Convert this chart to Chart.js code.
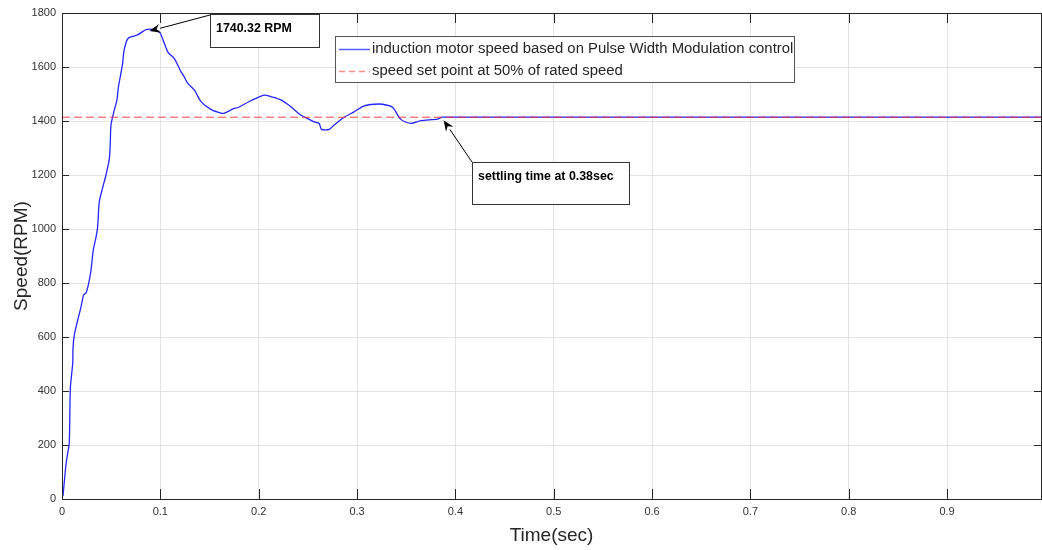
<!DOCTYPE html>
<html>
<head>
<meta charset="utf-8">
<script src="https://cdn.jsdelivr.net/npm/chart.js@4.4.1/dist/chart.umd.min.js"></script>
<style>
  html, body { margin: 0; padding: 0; background: #ffffff; }
  #wrap { width: 1042px; height: 550px; position: relative; }
</style>
</head>
<body>
<div id="wrap"><canvas id="c" width="1042" height="550"></canvas></div>
<script>
// ---- data ----
const timeSec = [0.001, 0.004, 0.0058, 0.0074, 0.0085, 0.0109, 0.0112, 0.0125, 0.016, 0.0193, 0.022, 0.0244, 0.0268, 0.0295, 0.0318, 0.0346, 0.0362, 0.0379, 0.0413, 0.0447, 0.0481, 0.0491, 0.0498, 0.0532, 0.0559, 0.0572, 0.06, 0.0617, 0.0627, 0.065, 0.0674, 0.0769, 0.085, 0.09, 0.0955, 0.0999, 0.104, 0.108, 0.1141, 0.1209, 0.1243, 0.1277, 0.1345, 0.1413, 0.1514, 0.1616, 0.165, 0.1751, 0.1785, 0.192, 0.2056, 0.2124, 0.2226, 0.2327, 0.2429, 0.2564, 0.2615, 0.2639, 0.2717, 0.2767, 0.2869, 0.297, 0.3072, 0.3174, 0.3259, 0.3361, 0.3445, 0.3547, 0.3648, 0.3818, 0.3869, 0.5, 0.7, 0.9955];
const speedRPM = [10, 126, 170, 207, 411, 503, 559, 607, 663, 711, 756, 763, 793, 848, 922, 970, 1007, 1100, 1152, 1200, 1259, 1318, 1385, 1441, 1478, 1522, 1578, 1615, 1652, 1689, 1707, 1719, 1738, 1740.32, 1738, 1725, 1688, 1653, 1632, 1583, 1564, 1540, 1515, 1472, 1443, 1429, 1429, 1447, 1449, 1475, 1496, 1490, 1478, 1453, 1422, 1397, 1391, 1369, 1369, 1385, 1414, 1434, 1456, 1462, 1462, 1451, 1406, 1391, 1401, 1407, 1414, 1414, 1414, 1414];
const setPointTime = [0, 0.9955];
const setPointRPM = [1414, 1414];
const xTicks = [0, 0.1, 0.2, 0.3, 0.4, 0.5, 0.6, 0.7, 0.8, 0.9];
const yTicks = [0, 200, 400, 600, 800, 1000, 1200, 1400, 1600, 1800];
const seriesNames = ['induction motor speed based on Pulse Width Modulation control', 'speed set point at 50% of rated speed'];
const peakLabel = '1740.32 RPM';
const settleLabel = 'settling time at 0.38sec';
const peakPoint = { x: 0.09, y: 1740.32 };
const settlePoint = { x: 0.387, y: 1414 };

const FONT = "'Liberation Sans', Arial, Helvetica, sans-serif";

const motorData = timeSec.map((t, i) => ({ x: t, y: speedRPM[i] }));
const setData = setPointTime.map((t, i) => ({ x: t, y: setPointRPM[i] }));

function drawArrow(ctx, x1, y1, x2, y2) {
  ctx.save();
  ctx.strokeStyle = '#000';
  ctx.fillStyle = '#000';
  ctx.lineWidth = 1;
  const ang = Math.atan2(y2 - y1, x2 - x1);
  const hl = 11, hw = 4.5;
  const bx = x2 - hl * Math.cos(ang), by = y2 - hl * Math.sin(ang);
  ctx.beginPath();
  ctx.moveTo(x1, y1);
  ctx.lineTo(bx, by);
  ctx.stroke();
  ctx.beginPath();
  ctx.moveTo(x2, y2);
  ctx.lineTo(bx + hw * Math.sin(ang), by - hw * Math.cos(ang));
  ctx.lineTo(bx + 0.35 * hl * Math.cos(ang), by + 0.35 * hl * Math.sin(ang));
  ctx.lineTo(bx - hw * Math.sin(ang), by + hw * Math.cos(ang));
  ctx.closePath();
  ctx.fill();
  ctx.restore();
}

function drawTextBox(ctx, x, y, w, h, text) {
  ctx.save();
  ctx.fillStyle = '#fff';
  ctx.fillRect(x, y, w, h);
  ctx.strokeStyle = '#333';
  ctx.lineWidth = 1;
  ctx.strokeRect(x + 0.5, y + 0.5, w, h);
  ctx.fillStyle = '#000';
  ctx.font = 'bold 12.4px ' + FONT;
  ctx.textBaseline = 'middle';
  ctx.textAlign = 'left';
  ctx.fillText(text, x + 6, y + 15);
  ctx.restore();
}

const matlabFrame = {
  id: 'matlabFrame',
  afterDatasetsDraw(chart) {
    const ctx = chart.ctx;
    const a = chart.chartArea;
    const xs = chart.scales.x, ys = chart.scales.y;
    ctx.save();
    ctx.strokeStyle = '#262626';
    ctx.lineWidth = 1;
    ctx.strokeRect(Math.round(a.left) + 0.5, Math.round(a.top) + 0.5, Math.round(a.right - a.left), Math.round(a.bottom - a.top));
    ctx.beginPath();
    xTicks.forEach(v => {
      const px = Math.round(xs.getPixelForValue(v)) + 0.5;
      ctx.moveTo(px, a.bottom); ctx.lineTo(px, a.bottom - 10);
      ctx.moveTo(px, a.top); ctx.lineTo(px, a.top + 10);
    });
    yTicks.forEach(v => {
      const py = Math.round(ys.getPixelForValue(v)) + 0.5;
      ctx.moveTo(a.left, py); ctx.lineTo(a.left + 7, py);
      ctx.moveTo(a.right, py); ctx.lineTo(a.right - 7, py);
    });
    ctx.stroke();
    ctx.restore();

    const pk = { x: xs.getPixelForValue(peakPoint.x) - 1, y: ys.getPixelForValue(peakPoint.y) + 2 };
    drawArrow(ctx, 210, 15, pk.x, pk.y);
    drawTextBox(ctx, 210, 14, 109, 33, peakLabel);
    const st = { x: xs.getPixelForValue(settlePoint.x) + 1, y: ys.getPixelForValue(settlePoint.y) + 3 };
    drawArrow(ctx, 472, 162, st.x, st.y);
    drawTextBox(ctx, 472, 162, 157, 42, settleLabel);

    ctx.save();
    const lx = 335, ly = 36, lw = 459, lh = 46;
    ctx.fillStyle = '#fff';
    ctx.fillRect(lx, ly, lw, lh);
    ctx.strokeStyle = '#555';
    ctx.lineWidth = 1;
    ctx.strokeRect(lx + 0.5, ly + 0.5, lw, lh);
    ctx.lineWidth = 1.5;
    ctx.strokeStyle = '#5b5bff';
    ctx.beginPath(); ctx.moveTo(339, 49.5); ctx.lineTo(370, 49.5); ctx.stroke();
    ctx.strokeStyle = '#ff8c8c';
    ctx.setLineDash([6, 4]);
    ctx.beginPath(); ctx.moveTo(339, 71.5); ctx.lineTo(370, 71.5); ctx.stroke();
    ctx.setLineDash([]);
    ctx.fillStyle = '#262626';
    ctx.font = '14.9px ' + FONT;
    ctx.textBaseline = 'middle';
    ctx.textAlign = 'left';
    ctx.fillText(seriesNames[0], 372, 49);
    ctx.fillText(seriesNames[1], 372, 71);
    ctx.restore();
  }
};

new Chart(document.getElementById('c'), {
  type: 'line',
  data: {
    datasets: [
      {
        label: seriesNames[0],
        data: motorData,
        borderColor: '#2424ff',
        borderWidth: 1.3,
        pointRadius: 0,
        tension: 0.25,
        order: 1
      },
      {
        label: seriesNames[1],
        data: setData,
        borderColor: 'rgba(255,40,40,0.85)',
        borderWidth: 1,
        borderDash: [8, 4],
        pointRadius: 0,
        tension: 0,
        order: 0
      }
    ]
  },
  options: {
    responsive: false,
    animation: false,
    devicePixelRatio: 1,
    layout: { padding: { top: 13, right: 1, left: 0, bottom: 0 } },
    plugins: { legend: { display: false }, tooltip: { enabled: false } },
    scales: {
      x: {
        type: 'linear',
        min: 0,
        max: 0.9955,
        afterBuildTicks: s => { s.ticks = xTicks.map(v => ({ value: v })); },
        afterFit: s => { s.height = 51; },
        ticks: {
          callback: v => String(Math.round(v * 10) / 10),
          font: { family: FONT, size: 11 },
          color: '#333',
          padding: 6,
          maxRotation: 0,
          autoSkip: false
        },
        grid: { color: '#e3e3e3', drawTicks: false, lineWidth: 1 },
        border: { display: false },
        title: {
          display: true,
          text: 'Time(sec)',
          font: { family: FONT, size: 19 },
          color: '#262626',
          padding: { top: 0, bottom: 3 }
        }
      },
      y: {
        type: 'linear',
        min: 0,
        max: 1800,
        afterBuildTicks: s => { s.ticks = yTicks.map(v => ({ value: v })); },
        afterFit: s => { s.width = 62; },
        ticks: {
          callback: v => String(v),
          font: { family: FONT, size: 11 },
          color: '#333',
          padding: 6
        },
        grid: { color: '#e3e3e3', drawTicks: false, lineWidth: 1 },
        border: { display: false },
        title: {
          display: true,
          text: 'Speed(RPM)',
          font: { family: FONT, size: 19 },
          color: '#262626',
          padding: { top: 10, bottom: 0 }
        }
      }
    }
  },
  plugins: [matlabFrame]
});
</script>
</body>
</html>
